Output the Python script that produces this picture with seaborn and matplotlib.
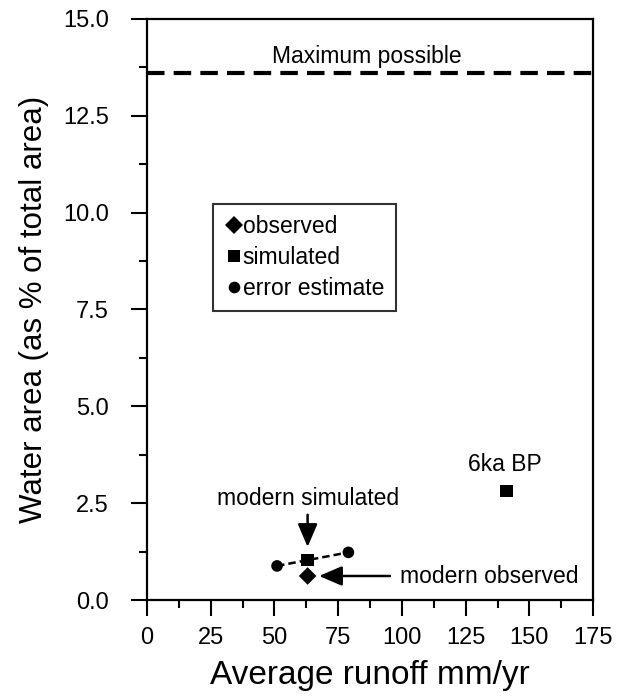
import matplotlib
matplotlib.use("Agg")
import matplotlib.pyplot as plt
import seaborn as sns
import pandas as pd

# values
obs_x = [63]
obs_y = [0.62]
sim_x = [63, 141]
sim_y = [1.03, 2.82]
err_x = [51, 79]
err_y = [0.88, 1.23]
band_x = [51, 63, 79]          # dashed line error - simulated - error
band_y = [0.88, 1.03, 1.23]
max_possible = 13.6

x_ticks = [0, 25, 50, 75, 100, 125, 150, 175]
y_ticks = [0.0, 2.5, 5.0, 7.5, 10.0, 12.5, 15.0]

sns.set_style("ticks")
plt.rcParams['font.family'] = ['Liberation Sans', 'DejaVu Sans']
plt.rcParams['text.color'] = 'black'
plt.rcParams['axes.labelcolor'] = 'black'
plt.rcParams['xtick.color'] = 'black'
plt.rcParams['ytick.color'] = 'black'

df = pd.DataFrame({
    'x': obs_x + sim_x + err_x,
    'y': obs_y + sim_y + err_y,
    'kind': ['observed'] * len(obs_x) + ['simulated'] * len(sim_x) + ['error estimate'] * len(err_x),
})

fig = plt.figure(figsize=(6.23, 6.98), dpi=100)
ax = fig.add_axes([0.236, 0.1404, 0.716, 0.8324])

# linia przerywana laczaca punkty bledu
sns.lineplot(x=band_x, y=band_y, ax=ax, color='black', lw=1.8, dashes=False,
             linestyle=(0, (3, 1.6)), sort=False)

sns.scatterplot(data=df, x='x', y='y', style='kind', hue='kind',
                palette={'observed': 'black', 'simulated': 'black', 'error estimate': 'black'},
                markers={'observed': 'D', 'simulated': 's', 'error estimate': 'o'},
                size='kind', sizes={'observed': 80, 'simulated': 80, 'error estimate': 70},
                edgecolor='black', linewidth=0, ax=ax, zorder=5)

ax.axhline(max_possible, color='black', lw=3, linestyle=(0, (4.2, 2.2)))

ax.set_xlim(0, 175)
ax.set_ylim(0, 15)
ax.set_xticks(x_ticks)
ax.set_yticks(y_ticks)
ax.set_xticklabels([str(v) for v in x_ticks])
ax.set_yticklabels(['%.1f' % v for v in y_ticks])
ax.set_xticks([v + 12.5 for v in x_ticks[:-1]], minor=True)
ax.set_yticks([v + 1.25 for v in y_ticks[:-1]], minor=True)
ax.tick_params(which='major', direction='out', length=11.5, width=1.5, labelsize=17, pad=8)
ax.tick_params(axis='y', which='major', pad=16)
ax.tick_params(which='minor', direction='out', length=6, width=1.5)
for s in ax.spines.values():
    s.set_linewidth(1.6)
    s.set_color('black')

ax.set_xlabel('Average runoff mm/yr', fontsize=24, labelpad=8)
ax.set_ylabel('Water area (as % of total area)', fontsize=22.5, labelpad=10)

# opisy i strzalki
ax.text(86.3, 14.02, 'Maximum possible', fontsize=16.5, ha='center', va='center')
ax.text(140.4, 3.49, '6ka BP', fontsize=16.5, ha='center', va='center')
ax.text(63.2, 2.63, 'modern simulated', fontsize=16.5, ha='center', va='center')
ax.text(99.3, 0.6, 'modern observed', fontsize=16.5, ha='left', va='center')
arrow = dict(arrowstyle='-|>,head_length=0.7,head_width=0.3', color='black', lw=1.8,
             shrinkA=0, shrinkB=0, mutation_scale=20)
ax.annotate('', xy=(63, 1.37), xytext=(63, 2.2), arrowprops=arrow)
ax.annotate('', xy=(67.5, 0.62), xytext=(95.3, 0.62), arrowprops=arrow)

handles, labels = ax.get_legend_handles_labels()
leg = ax.legend(handles, labels, loc='upper left', bbox_to_anchor=(0.148, 0.682),
                borderaxespad=0, fontsize=16.5, handletextpad=0.0, handlelength=0.8,
                labelspacing=0.34, fancybox=False, frameon=True, borderpad=0.5)
leg.get_frame().set_edgecolor('black')
leg.get_frame().set_linewidth(1.5)

fig.savefig('out.png', dpi=100)
